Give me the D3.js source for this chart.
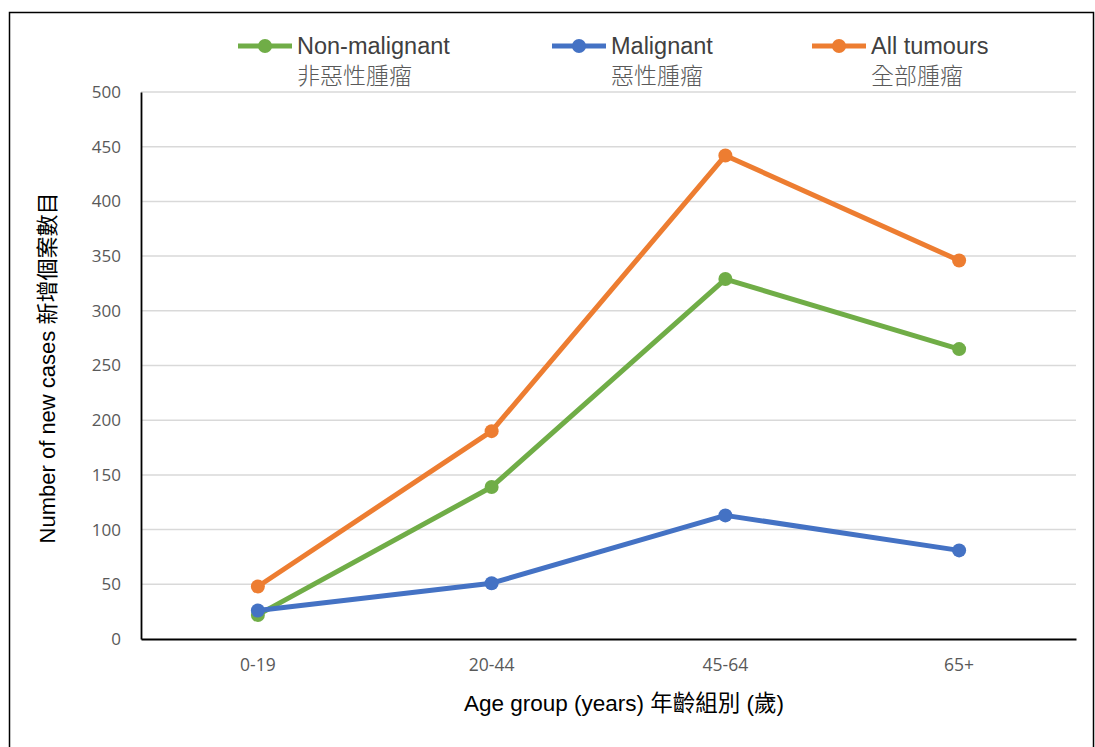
<!DOCTYPE html>
<html>
<head>
<meta charset="utf-8">
<script src="https://cdn.jsdelivr.net/npm/d3@7"></script>
<style>
  body { margin: 0; background: #fff; }
  svg { display: block; }
</style>
</head>
<body>
<div id="chart"></div>
<script>
// data
const ageGroups = ["0-19", "20-44", "45-64", "65+"];
const nonMalignant = [22, 139, 329, 265];
const malignant = [26, 51, 113, 81];
const allTumours = [48, 190, 442, 346];
const yTicks = [0, 50, 100, 150, 200, 250, 300, 350, 400, 450, 500];

const seriesNames = ["Non-malignant", "Malignant", "All tumours"];
const seriesNamesZh = ["非惡性腫瘤", "惡性腫瘤", "全部腫瘤"];

const width = 1095, height = 747;
const plot = { left: 141, right: 1076, top: 92, bottom: 639 };

const series = [
  { name: seriesNames[0], zh: seriesNamesZh[0], values: nonMalignant, color: "#70AD47", lx: 238 },
  { name: seriesNames[1], zh: seriesNamesZh[1], values: malignant, color: "#4472C4", lx: 552 },
  { name: seriesNames[2], zh: seriesNamesZh[2], values: allTumours, color: "#ED7D31", lx: 812 }
];

const svg = d3.select("#chart")
  .append("svg")
  .attr("width", width)
  .attr("height", height);

// outer frame
svg.append("rect")
  .attr("x", 9.5).attr("y", 12.5)
  .attr("width", 1084).attr("height", 760)
  .attr("fill", "none")
  .attr("stroke", "#000")
  .attr("stroke-width", 1.5);

const x = d3.scaleBand()
  .domain(ageGroups)
  .range([plot.left, plot.right]);

const y = d3.scaleLinear()
  .domain([0, 500])
  .range([plot.bottom, plot.top]);

// gridlines
svg.append("g")
  .selectAll("line")
  .data(yTicks.filter(d => d > 0))
  .enter()
  .append("line")
  .attr("x1", plot.left).attr("x2", plot.right)
  .attr("y1", d => y(d)).attr("y2", d => y(d))
  .attr("stroke", "#d9d9d9")
  .attr("stroke-width", 1.5);

// y axis
const yAxis = svg.append("g")
  .attr("transform", "translate(" + plot.left + ",0)")
  .call(d3.axisLeft(y).tickValues(yTicks).tickSize(0).tickPadding(20));
yAxis.select(".domain").attr("stroke", "#000").attr("stroke-width", 1.8);
yAxis.selectAll("text")
  .attr("fill", "#595959")
  .style("font-family", "'Open Sans', Calibri, sans-serif")
  .style("font-size", "17px");

// x axis
const xAxis = svg.append("g")
  .attr("transform", "translate(0," + plot.bottom + ")")
  .call(d3.axisBottom(x).tickSize(0).tickPadding(20));
xAxis.select(".domain").attr("stroke", "#000").attr("stroke-width", 1.8);
xAxis.selectAll("text")
  .attr("fill", "#595959")
  .style("font-family", "'Open Sans', Calibri, sans-serif")
  .style("font-size", "17.5px");

// axis titles
svg.append("text")
  .attr("transform", "translate(55,368) rotate(-90)")
  .attr("text-anchor", "middle")
  .style("font-family", "'Liberation Sans', Arial, 'Noto Sans CJK TC', sans-serif")
  .style("font-size", "22px")
  .attr("fill", "#000")
  .text("Number of new cases 新增個案數目");

svg.append("text")
  .attr("x", 624).attr("y", 711)
  .attr("text-anchor", "middle")
  .style("font-family", "'Liberation Sans', Arial, 'Noto Sans CJK TC', sans-serif")
  .style("font-size", "22.5px")
  .attr("fill", "#000")
  .text("Age group (years) 年齡組別 (歲)");

// lines and markers
const line = d3.line()
  .x((d, i) => x(ageGroups[i]) + x.bandwidth() / 2)
  .y(d => y(d));

series.forEach(function(s) {
  const g = svg.append("g");
  g.append("path")
    .datum(s.values)
    .attr("d", line)
    .attr("fill", "none")
    .attr("stroke", s.color)
    .attr("stroke-width", 5)
    .attr("stroke-linejoin", "round");
  g.selectAll("circle")
    .data(s.values)
    .enter()
    .append("circle")
    .attr("cx", (d, i) => x(ageGroups[i]) + x.bandwidth() / 2)
    .attr("cy", d => y(d))
    .attr("r", 7)
    .attr("fill", s.color);
});

// legend
const legend = svg.append("g");
series.forEach(function(s) {
  const g = legend.append("g");
  g.append("line")
    .attr("x1", s.lx).attr("x2", s.lx + 54)
    .attr("y1", 46).attr("y2", 46)
    .attr("stroke", s.color)
    .attr("stroke-width", 5);
  g.append("circle")
    .attr("cx", s.lx + 27).attr("cy", 46)
    .attr("r", 7)
    .attr("fill", s.color);
  g.append("text")
    .attr("x", s.lx + 59).attr("y", 54)
    .style("font-family", "'Liberation Sans', Arial, sans-serif")
    .style("font-size", "23.5px")
    .attr("fill", "#404040")
    .text(s.name);
  g.append("text")
    .attr("x", s.lx + 59).attr("y", 84)
    .style("font-family", "'Noto Sans CJK TC', sans-serif")
    .style("font-size", "23px")
    .style("font-weight", "300")
    .attr("fill", "#595959")
    .text(s.zh);
});
</script>
</body>
</html>
